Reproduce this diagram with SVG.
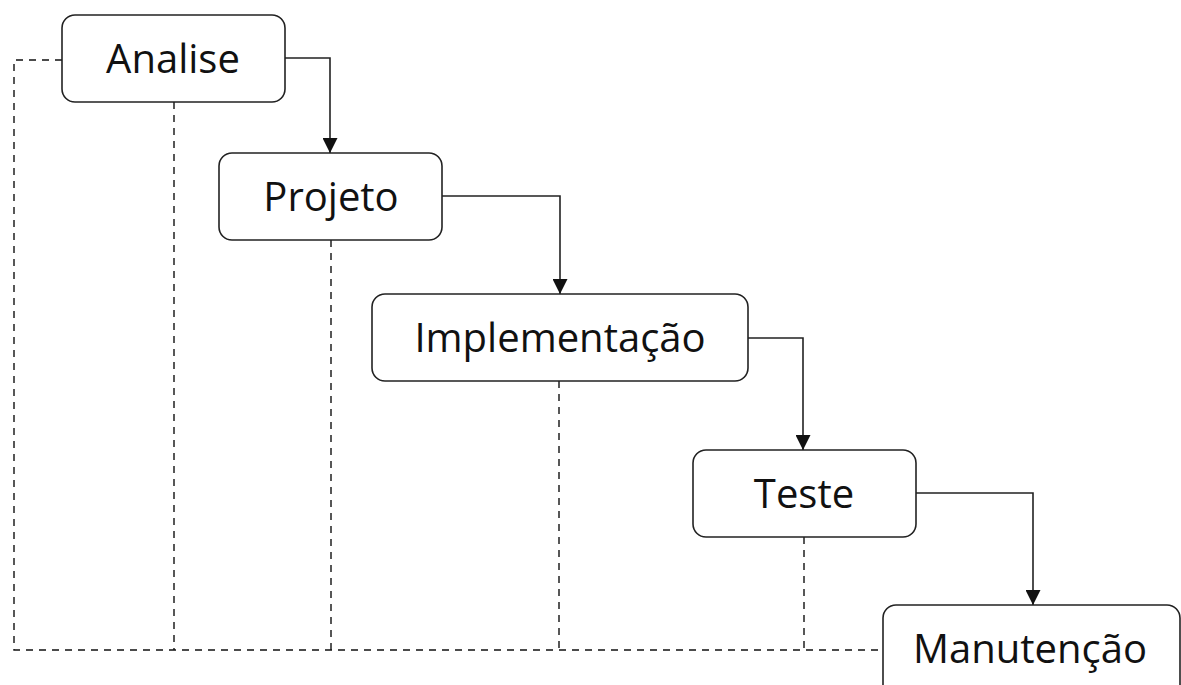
<svg xmlns="http://www.w3.org/2000/svg" width="1181" height="685" viewBox="0 0 1181 685">
<style>
.box{fill:#fff;stroke:#222;stroke-width:1.6}
.lbl{font-family:"Open Sans","Noto Sans",sans-serif;font-size:40px;fill:#111;text-anchor:middle}
.flow{fill:none;stroke:#222;stroke-width:1.6}
.dash{fill:none;stroke:#111;stroke-width:1.4;stroke-dasharray:7,6}
</style>
<defs>
<marker id="ah" viewBox="0 0 10 10" refX="10" refY="5" markerWidth="15" markerHeight="15" markerUnits="userSpaceOnUse" orient="auto">
<path d="M0,0 L10,5 L0,10 Z" fill="#111"/>
</marker>
</defs>
<rect width="1181" height="685" fill="#fff"/>
<g id="connectors">
<path class="dash" d="M62,60 H14 V650 H883"/>
<path class="dash" d="M174,102 V650"/>
<path class="dash" d="M331,240 V650"/>
<path class="dash" d="M559,381 V650"/>
<path class="dash" d="M804,537 V650"/>
<path class="flow" d="M285,58 H330 V153" marker-end="url(#ah)"/>
<path class="flow" d="M442,196 H560 V294" marker-end="url(#ah)"/>
<path class="flow" d="M748,338 H803 V450" marker-end="url(#ah)"/>
<path class="flow" d="M916,493 H1033 V605" marker-end="url(#ah)"/>
</g>
<g id="analise">
<rect class="box" x="62" y="15" width="223" height="87" rx="13"/>
<text class="lbl" x="173" y="73">Analise</text>
</g>
<g id="projeto">
<rect class="box" x="219" y="153" width="223" height="87" rx="13"/>
<text class="lbl" x="331" y="211">Projeto</text>
</g>
<g id="implementacao">
<rect class="box" x="372" y="294" width="376" height="87" rx="13"/>
<text class="lbl" x="560" y="352">Implementação</text>
</g>
<g id="teste">
<rect class="box" x="693" y="450" width="223" height="87" rx="13"/>
<text class="lbl" x="804" y="508">Teste</text>
</g>
<g id="manutencao">
<rect class="box" x="883" y="605" width="297" height="110" rx="13"/>
<text class="lbl" x="1030" y="663">Manutenção</text>
</g>
</svg>
